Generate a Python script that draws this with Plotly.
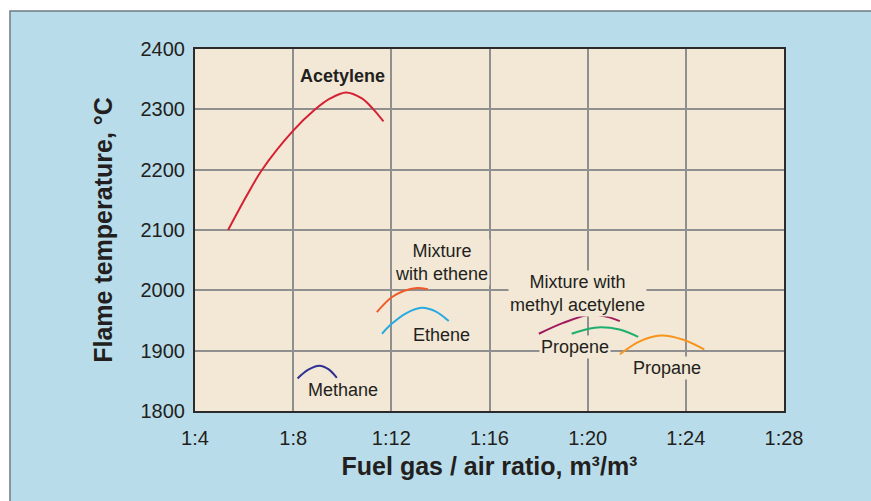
import plotly.graph_objects as go

# ---- data (fuel gas/air ratio 1:x, flame temperature °C) ----
acetylene_x = [5.35, 6.11, 6.72, 8.01, 8.9, 9.51, 10.15, 10.8, 11.27, 11.68]
acetylene_y = [2100, 2157, 2199, 2265, 2300, 2318, 2328, 2318, 2300, 2280]

mix_ethene_x = [11.41, 12.0, 12.5, 13.04, 13.49]
mix_ethene_y = [1964, 1988, 1999, 2004, 2002]

ethene_x = [11.62, 12.0, 12.6, 13.24, 13.8, 14.34]
ethene_y = [1928, 1944, 1962, 1971, 1965, 1949]

mix_methyl_x = [18.01, 19.0, 20.12, 20.8, 21.31]
mix_methyl_y = [1928, 1946, 1960, 1956, 1949]

propene_x = [19.35, 20.0, 20.53, 21.3, 22.06]
propene_y = [1928, 1936, 1939, 1935, 1923]

propane_x = [21.31, 22.1, 22.98, 23.9, 24.75]
propane_y = [1894, 1915, 1925, 1918, 1902]

methane_x = [8.18, 8.6, 9.07, 9.45, 9.78]
methane_y = [1854, 1868, 1875, 1869, 1855]

x_ticks = [4, 8, 12, 16, 20, 24, 28]
x_tick_labels = ["1:4", "1:8", "1:12", "1:16", "1:20", "1:24", "1:28"]
y_ticks = [1800, 1900, 2000, 2100, 2200, 2300, 2400]

series = [
    ("Acetylene", acetylene_x, acetylene_y, "#d71f32"),
    ("Mixture with ethene", mix_ethene_x, mix_ethene_y, "#f15a29"),
    ("Ethene", ethene_x, ethene_y, "#27aae1"),
    ("Mixture with methyl acetylene", mix_methyl_x, mix_methyl_y, "#a01a5e"),
    ("Propene", propene_x, propene_y, "#1fae6e"),
    ("Propane", propane_x, propane_y, "#f7941d"),
    ("Methane", methane_x, methane_y, "#2e3192"),
]

labels = [
    ("<b>Acetylene</b>", 10.0, 2355),
    ("Mixture<br>with ethene", 14.06, 2046),
    ("Ethene", 14.03, 1926),
    ("Mixture with<br>methyl acetylene", 19.58, 1995),
    ("Propene", 19.5, 1906),
    ("Propane", 23.22, 1872),
    ("Methane", 10.05, 1834),
]

PLOT_BG = "#f2e8d5"
PAPER_BLUE = "#b9dcea"
FONT = "Liberation Sans, Arial, sans-serif"

fig = go.Figure()
for name, xs, ys, col in series:
    fig.add_trace(go.Scatter(x=xs, y=ys, mode="lines", name=name,
                             line=dict(color=col, width=2, shape="spline", smoothing=0.9),
                             hoverinfo="skip"))

for text, x, y in labels:
    fig.add_annotation(x=x, y=y, text=text, showarrow=False,
                       font=dict(family=FONT, size=18, color="#231f20"),
                       bgcolor=PLOT_BG, borderpad=1, align="center")

# outer light-blue panel with thin border (white margin top/left)
fig.add_shape(type="rect", xref="paper", yref="paper",
              x0=-0.3141, x1=1.5, y0=-0.6, y1=1.105,
              fillcolor=PAPER_BLUE, line=dict(color="#6d7b84", width=1.5),
              layer="below")
# beige plot area on top of the blue panel
fig.add_shape(type="rect", xref="paper", yref="paper",
              x0=0, x1=1, y0=0, y1=1,
              fillcolor=PLOT_BG, line=dict(width=0), layer="below")

fig.update_layout(
    width=871, height=501,
    paper_bgcolor="white",
    plot_bgcolor=PLOT_BG,
    showlegend=False,
    margin=dict(l=195, r=87, t=49, b=90),
    font=dict(family=FONT, color="#231f20"),
)

fig.update_xaxes(range=[4, 28], tickvals=x_ticks, ticktext=x_tick_labels,
                 showgrid=True, gridcolor="#8f8f8f", gridwidth=1.5,
                 showline=True, linecolor="#2b2b2b", linewidth=2, mirror=True,
                 zeroline=False, ticks="", tickfont=dict(size=20, family=FONT),
                 ticklabelstandoff=8,
                 title=dict(text="<b>Fuel gas / air ratio, m³/m³</b>",
                            font=dict(size=25, family=FONT), standoff=9))
fig.update_yaxes(range=[1800, 2400], tickvals=y_ticks,
                 showgrid=True, gridcolor="#8f8f8f", gridwidth=1.5,
                 showline=True, linecolor="#2b2b2b", linewidth=2, mirror=True,
                 zeroline=False, ticks="", tickfont=dict(size=20, family=FONT),
                 ticklabelstandoff=4,
                 title=dict(text="<b>Flame temperature, °C</b>",
                            font=dict(size=25, family=FONT), standoff=21))

fig.write_html("out.html",
               config={"displayModeBar": False},
               post_script="document.body.style.margin='0';document.body.style.overflow='hidden';")
